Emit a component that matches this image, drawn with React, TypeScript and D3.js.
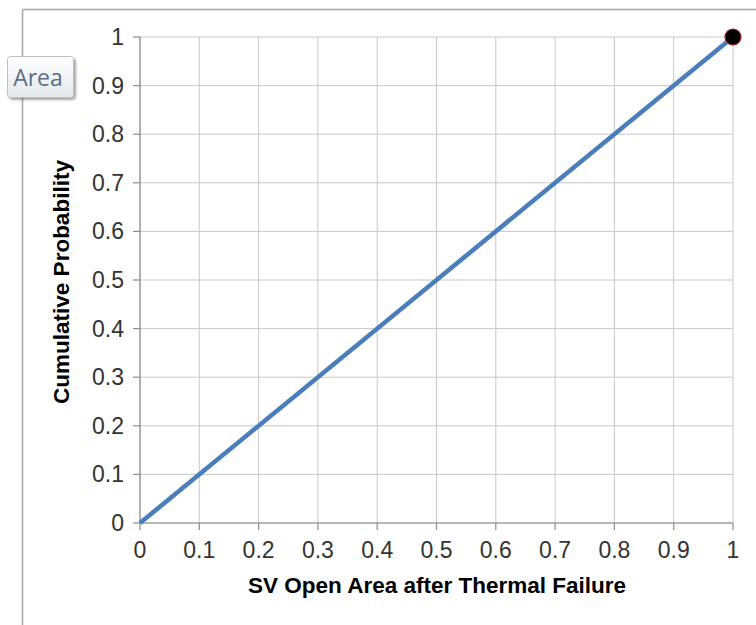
import React from "react";
import * as d3 from "d3";

const areaValues = [0, 1];
const cumulativeProbabilities = [0, 1];
const markerPoint = [1, 1];
const xTicks = [0, 0.1, 0.2, 0.3, 0.4, 0.5, 0.6, 0.7, 0.8, 0.9, 1];
const yTicks = [0, 0.1, 0.2, 0.3, 0.4, 0.5, 0.6, 0.7, 0.8, 0.9, 1];
const xTitle = "SV Open Area after Thermal Failure";
const yTitle = "Cumulative Probability";
const buttonLabel = "Area";

export default function App() {
  const W = 756, H = 625;
  const left = 140, right = 733, top = 37, bottom = 523;
  const x = d3.scaleLinear().domain([0, 1]).range([left, right]);
  const y = d3.scaleLinear().domain([0, 1]).range([bottom, top]);
  const pts = areaValues.map((v, i) => [v, cumulativeProbabilities[i]] as [number, number]);
  const line = d3.line<[number, number]>().x(d => x(d[0])).y(d => y(d[1]));
  const fmt = (v: number) => (v === 0 || v === 1 ? String(v) : String(+v.toFixed(1)));
  const font = "Arial, 'Liberation Sans', sans-serif";
  return (
    <svg width={W} height={H} style={{ position: "absolute", left: 0, top: 0 }} fontFamily={font}>
      <defs>
        <linearGradient id="btn" x1="0" y1="0" x2="0" y2="1">
          <stop offset="0" stopColor="#ffffff" />
          <stop offset="1" stopColor="#e4e8ee" />
        </linearGradient>
        <filter id="sh" x="-20%" y="-20%" width="150%" height="160%">
          <feDropShadow dx="2" dy="2" stdDeviation="1.2" floodColor="#000" floodOpacity="0.35" />
        </filter>
      </defs>
      <rect x={0} y={0} width={W} height={H} fill="#fff" />
      {/* outer frame */}
      <line x1={22.5} x2={W} y1={9.5} y2={9.5} stroke="#a6a6a6" strokeWidth={1.5} />
      <line x1={22.5} x2={22.5} y1={9.5} y2={H} stroke="#a6a6a6" strokeWidth={1.5} />
      {/* grid */}
      {xTicks.map(t => (
        <line key={"gx" + t} x1={x(t)} x2={x(t)} y1={top} y2={bottom} stroke="#c8c8c8" strokeWidth={1} />
      ))}
      {yTicks.map(t => (
        <line key={"gy" + t} x1={left} x2={right} y1={y(t)} y2={y(t)} stroke="#c8c8c8" strokeWidth={1} />
      ))}
      {/* axes */}
      <line x1={left} x2={left} y1={top} y2={bottom} stroke="#8c8c8c" strokeWidth={1.2} />
      <line x1={left} x2={right} y1={bottom} y2={bottom} stroke="#8c8c8c" strokeWidth={1.2} />
      {yTicks.map(t => (
        <line key={"ty" + t} x1={left - 7} x2={left} y1={y(t)} y2={y(t)} stroke="#8c8c8c" strokeWidth={1.2} />
      ))}
      {xTicks.map(t => (
        <line key={"tx" + t} x1={x(t)} x2={x(t)} y1={bottom} y2={bottom + 7} stroke="#8c8c8c" strokeWidth={1.2} />
      ))}
      {yTicks.map(t => (
        <text key={"ly" + t} x={left - 16} y={y(t) + 8} textAnchor="end" fontSize={23} fill="#333">
          {fmt(t)}
        </text>
      ))}
      {xTicks.map(t => (
        <text key={"lx" + t} x={x(t)} y={558} textAnchor="middle" fontSize={23} fill="#333">
          {fmt(t)}
        </text>
      ))}
      {/* data */}
      <path d={line(pts) || ""} fill="none" stroke="#4a7ebb" strokeWidth={4.5} />
      <circle cx={x(markerPoint[0])} cy={y(markerPoint[1])} r={8} fill="#000" stroke="#a02020" strokeWidth={1.2} />
      {/* titles */}
      <text x={437} y={593} textAnchor="middle" fontSize={22.5} fontWeight="bold" fill="#000">
        {xTitle}
      </text>
      <text transform={`translate(69,282) rotate(-90)`} textAnchor="middle" fontSize={22.5} fontWeight="bold" fill="#000">
        {yTitle}
      </text>
      {/* field button */}
      <g filter="url(#sh)">
        <rect x={7.5} y={56.5} width={66} height={41} rx={3} fill="url(#btn)" stroke="#b9c0ca" strokeWidth={1} />
      </g>
      <text x={38} y={86} textAnchor="middle" fontSize={23} fill="#5d6f86" fontFamily="'Segoe UI', 'Open Sans', 'DejaVu Sans', sans-serif">
        {buttonLabel}
      </text>
    </svg>
  );
}
